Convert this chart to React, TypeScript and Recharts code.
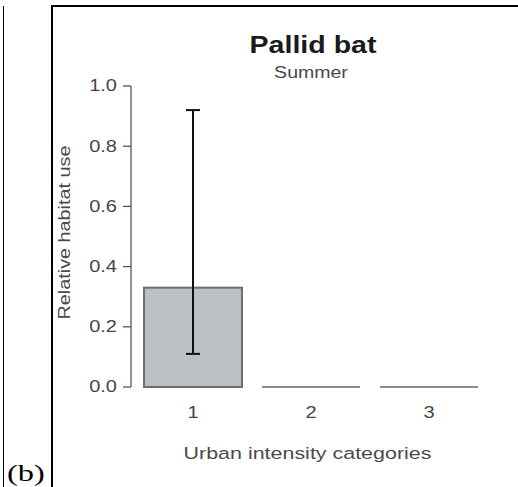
import React from 'react';
import { BarChart, Bar, XAxis, YAxis, ErrorBar, Label } from 'recharts';

// urban intensity categories and relative habitat use (summer)
const categories = ['1', '2', '3'];
const habitatUse = [0.33, 0, 0];
const ciLower: (number | null)[] = [0.11, null, null];
const ciUpper: (number | null)[] = [0.92, null, null];
const yTicks = [0, 0.2, 0.4, 0.6, 0.8, 1.0];

const data = categories.map((c, i) => ({
  category: c,
  value: habitatUse[i],
  err:
    ciLower[i] != null && ciUpper[i] != null
      ? [habitatUse[i] - (ciLower[i] as number), (ciUpper[i] as number) - habitatUse[i]]
      : undefined,
}));

const FONT = '"Liberation Sans", Arial, Helvetica, sans-serif';
const STRETCH = 1.25;

const YTick = (p: any) => (
  <g transform={`translate(${p.x},${p.y}) scale(${STRETCH},1)`}>
    <text x={0} y={0} textAnchor="end" dominantBaseline="central" fontSize={16} fill="#454545" fontFamily={FONT}>
      {Number(p.payload.value).toFixed(1)}
    </text>
  </g>
);

const XTick = (p: any) => (
  <g transform={`translate(${p.x},${p.y + 31}) scale(${STRETCH},1)`}>
    <text x={0} y={0} textAnchor="middle" fontSize={16} fill="#454545" fontFamily={FONT}>
      {p.payload.value}
    </text>
  </g>
);

const XTitle = (p: any) => {
  const vb = p.viewBox;
  return (
    <g transform={`translate(${vb.x + vb.width / 2 - 2},${vb.y + 72}) scale(1.3,1)`}>
      <text x={0} y={0} textAnchor="middle" fontSize={16.5} fill="#4a4a4a" fontFamily={FONT}>
        Urban intensity categories
      </text>
    </g>
  );
};

const YTitle = (p: any) => {
  const vb = p.viewBox;
  return (
    <g transform={`translate(${vb.x + 19},${vb.y + vb.height / 2 - 4}) rotate(-90) scale(1.2,1)`}>
      <text x={0} y={0} textAnchor="middle" fontSize={16.5} fill="#4a4a4a" fontFamily={FONT}>
        Relative habitat use
      </text>
    </g>
  );
};

// zero-valued categories still get a flat outline at the baseline
const BarShape = (p: any) => {
  if (!p.height || Math.abs(p.height) < 1) {
    return <line x1={p.x} x2={p.x + p.width} y1={p.y} y2={p.y} stroke="#8c8c8c" strokeWidth={2} />;
  }
  return (
    <rect x={p.x} y={p.y} width={p.width} height={p.height} fill="#bdc0c2" stroke="#6e6e6e" strokeWidth={2} />
  );
};

export default function App() {
  return (
    <div style={{ position: 'absolute', left: 0, top: 0, width: 518, height: 487, overflow: 'hidden', background: '#fff' }}>
      {/* panel frames */}
      <div style={{ position: 'absolute', left: 3, top: 6, width: 0, height: 490, borderLeft: '1.5px solid #000' }} />
      <div style={{ position: 'absolute', left: 51, top: 5, width: 480, height: 490, borderLeft: '2px solid #000', borderTop: '2px solid #000' }} />
      <div
        style={{
          position: 'absolute', left: 7, top: 461, fontFamily: '"Liberation Serif", "Times New Roman", serif',
          fontSize: 24, lineHeight: '24px', color: '#000', transform: 'scaleX(1.35)', transformOrigin: 'left',
        }}
      >
        (b)
      </div>

      {/* titles */}
      <div
        style={{
          position: 'absolute', left: 213, width: 200, top: 33, textAlign: 'center', fontFamily: FONT,
          fontWeight: 'bold', fontSize: 24, lineHeight: '24px', color: '#1a1a1a', transform: 'scaleX(1.19)',
        }}
      >
        Pallid bat
      </div>
      <div
        style={{
          position: 'absolute', left: 211, width: 200, top: 65, textAlign: 'center', fontFamily: FONT,
          fontSize: 16, lineHeight: '16px', color: '#484848', transform: 'scaleX(1.22)',
        }}
      >
        Summer
      </div>

      <div style={{ position: 'absolute', left: 0, top: 0 }}>
        <BarChart
          width={518}
          height={487}
          data={data}
          margin={{ top: 86, right: 30, bottom: 20, left: 51 }}
          barCategoryGap={10}
        >
          <XAxis
            dataKey="category"
            axisLine={false}
            tickLine={false}
            tickSize={0}
            tickMargin={0}
            height={80}
            padding={{ left: 3, right: 0 }}
            tick={<XTick />}
          >
            <Label content={<XTitle />} />
          </XAxis>
          <YAxis
            domain={[0, 1]}
            ticks={yTicks}
            width={80}
            axisLine={{ stroke: '#555', strokeWidth: 1.3 }}
            tickLine={{ stroke: '#555', strokeWidth: 1.3 }}
            tickSize={8}
            tickMargin={6}
            tick={<YTick />}
          >
            <Label content={<YTitle />} />
          </YAxis>
          <Bar dataKey="value" shape={<BarShape />} isAnimationActive={false}>
            <ErrorBar dataKey="err" width={7} stroke="#111" strokeWidth={2} direction="y" />
          </Bar>
        </BarChart>
      </div>
    </div>
  );
}
